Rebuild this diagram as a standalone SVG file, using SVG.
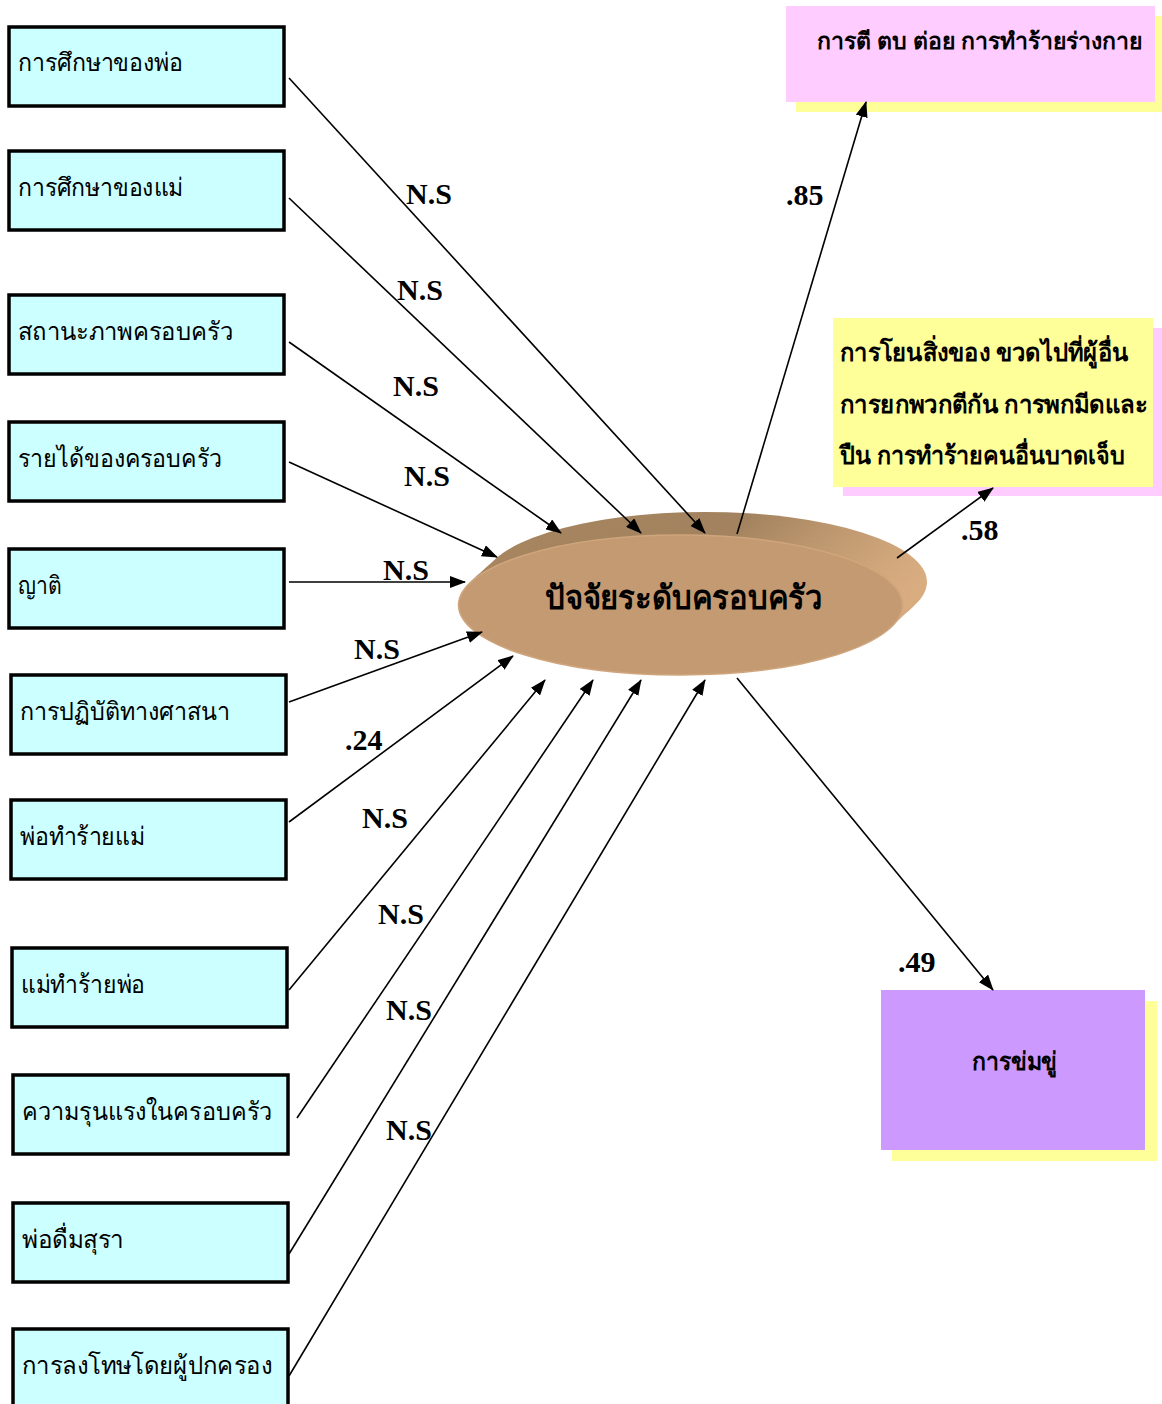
<svg xmlns="http://www.w3.org/2000/svg" width="1162" height="1404" viewBox="0 0 1162 1404">
<defs>
<marker id="ah" viewBox="0 0 16 12" refX="15" refY="6" markerWidth="16" markerHeight="12" markerUnits="userSpaceOnUse" orient="auto">
<path d="M0,0 L16,6 L0,12 z" fill="#000"/>
</marker>
<linearGradient id="ext" x1="0" y1="0" x2="1" y2="0">
<stop offset="0" stop-color="#a6855f"/>
<stop offset="0.6" stop-color="#a3835f"/>
<stop offset="1" stop-color="#d9ad80"/>
</linearGradient>
</defs>
<style>
.box{fill:#ccffff;stroke:#000;stroke-width:3.5}
.bt{font-family:"Liberation Serif","Noto Sans",serif;font-size:25px;fill:#000}
.rt{font-family:"Liberation Serif","Noto Sans",serif;font-size:25px;font-weight:bold;fill:#000}
.lb{font-family:"Liberation Serif",serif;font-size:30px;font-weight:bold;fill:#000}
.cn{stroke:#000;stroke-width:1.6;fill:none;marker-end:url(#ah)}
</style>
<rect width="1162" height="1404" fill="#fff"/>

<g id="n1"><rect class="box" x="9" y="27" width="275" height="79"/><text class="bt" x="18" y="71" textLength="165" lengthAdjust="spacingAndGlyphs">การศึกษาของพ่อ</text></g>
<g id="n2"><rect class="box" x="9" y="151" width="275" height="79"/><text class="bt" x="18" y="196" textLength="165" lengthAdjust="spacingAndGlyphs">การศึกษาของแม่</text></g>
<g id="n3"><rect class="box" x="9" y="295" width="275" height="79"/><text class="bt" x="18" y="340" textLength="215" lengthAdjust="spacingAndGlyphs">สถานะภาพครอบครัว</text></g>
<g id="n4"><rect class="box" x="9" y="422" width="275" height="79"/><text class="bt" x="18" y="467" textLength="204" lengthAdjust="spacingAndGlyphs">รายได้ของครอบครัว</text></g>
<g id="n5"><rect class="box" x="9" y="549" width="275" height="79"/><text class="bt" x="18" y="594" textLength="43" lengthAdjust="spacingAndGlyphs">ญาติ</text></g>
<g id="n6"><rect class="box" x="11" y="675" width="275" height="79"/><text class="bt" x="20" y="720" textLength="210" lengthAdjust="spacingAndGlyphs">การปฏิบัติทางศาสนา</text></g>
<g id="n7"><rect class="box" x="11" y="800" width="275" height="79"/><text class="bt" x="20" y="845" textLength="125" lengthAdjust="spacingAndGlyphs">พ่อทำร้ายแม่</text></g>
<g id="n8"><rect class="box" x="12" y="948" width="275" height="79"/><text class="bt" x="21" y="993" textLength="124" lengthAdjust="spacingAndGlyphs">แม่ทำร้ายพ่อ</text></g>
<g id="n9"><rect class="box" x="13" y="1075" width="275" height="79"/><text class="bt" x="22" y="1120" textLength="250" lengthAdjust="spacingAndGlyphs">ความรุนแรงในครอบครัว</text></g>
<g id="n10"><rect class="box" x="13" y="1203" width="275" height="79"/><text class="bt" x="22" y="1248" textLength="102" lengthAdjust="spacingAndGlyphs">พ่อดื่มสุรา</text></g>
<g id="n11"><rect class="box" x="13" y="1329" width="275" height="90"/><text class="bt" x="22" y="1374" textLength="250" lengthAdjust="spacingAndGlyphs">การลงโทษโดยผู้ปกครอง</text></g>

<g id="center">
<ellipse cx="705" cy="582" rx="222" ry="70" fill="url(#ext)"/>
<ellipse cx="700" cy="587" rx="222" ry="70" fill="url(#ext)"/>
<ellipse cx="695" cy="591" rx="222" ry="70" fill="url(#ext)"/>
<ellipse cx="690" cy="596" rx="222" ry="70" fill="url(#ext)"/>
<ellipse cx="685" cy="600" rx="222" ry="70" fill="url(#ext)"/>
<ellipse cx="680.5" cy="605" rx="222" ry="70" fill="#c49a72" stroke="#cfa57c" stroke-width="1.5"/>
<text x="545" y="609" textLength="278" lengthAdjust="spacingAndGlyphs" font-family="Liberation Serif,'Noto Sans',serif" font-size="33" font-weight="bold">ปัจจัยระดับครอบครัว</text>
</g>

<g id="o1">
<rect x="796" y="16" width="366" height="96" fill="#ffff99"/>
<rect x="786" y="6" width="369" height="96" fill="#ffccff"/>
<text class="rt" x="817" y="49" font-size="23" style="font-size:23px" textLength="325" lengthAdjust="spacingAndGlyphs">การตี ตบ ต่อย การทำร้ายร่างกาย</text>
</g>
<g id="o2">
<rect x="843" y="328" width="319" height="168" fill="#ffccff"/>
<rect x="833" y="318" width="320" height="169" fill="#ffff99"/>
<text class="rt" x="840" y="361" textLength="288" lengthAdjust="spacingAndGlyphs">การโยนสิ่งของ ขวดไปที่ผู้อื่น</text>
<text class="rt" x="840" y="413" textLength="307" lengthAdjust="spacingAndGlyphs">การยกพวกตีกัน การพกมีดและ</text>
<text class="rt" x="840" y="464" textLength="285" lengthAdjust="spacingAndGlyphs">ปืน การทำร้ายคนอื่นบาดเจ็บ</text>
</g>
<g id="o3">
<rect x="892" y="1001" width="265" height="160" fill="#ffff99"/>
<rect x="881" y="990" width="264" height="160" fill="#cc99ff"/>
<text class="rt" x="972" y="1070" textLength="85" lengthAdjust="spacingAndGlyphs">การข่มขู่</text>
</g>

<g id="connectors">
<line class="cn" x1="289" y1="78" x2="705" y2="533"/>
<line class="cn" x1="289" y1="198" x2="641" y2="533"/>
<line class="cn" x1="289" y1="342" x2="561" y2="533"/>
<line class="cn" x1="289" y1="462" x2="497" y2="557"/>
<line class="cn" x1="289" y1="582" x2="465" y2="582"/>
<line class="cn" x1="289" y1="702" x2="482" y2="632"/>
<line class="cn" x1="289" y1="822" x2="513" y2="656"/>
<line class="cn" x1="289" y1="990" x2="545" y2="680"/>
<line class="cn" x1="297" y1="1118" x2="593" y2="680"/>
<line class="cn" x1="289" y1="1254" x2="641" y2="680"/>
<line class="cn" x1="289" y1="1376" x2="705" y2="680"/>
<line class="cn" x1="737" y1="534" x2="866" y2="102"/>
<line class="cn" x1="897" y1="558" x2="993" y2="488"/>
<line class="cn" x1="737" y1="678" x2="993" y2="990"/>
</g>

<g id="labels">
<text class="lb" x="406" y="204">N.S</text>
<text class="lb" x="397" y="300">N.S</text>
<text class="lb" x="393" y="396">N.S</text>
<text class="lb" x="404" y="486">N.S</text>
<text class="lb" x="383" y="580">N.S</text>
<text class="lb" x="354" y="659">N.S</text>
<text class="lb" x="345" y="750">.24</text>
<text class="lb" x="362" y="828">N.S</text>
<text class="lb" x="378" y="924">N.S</text>
<text class="lb" x="386" y="1020">N.S</text>
<text class="lb" x="386" y="1140">N.S</text>
<text class="lb" x="786" y="205">.85</text>
<text class="lb" x="961" y="540">.58</text>
<text class="lb" x="898" y="972">.49</text>
</g>
</svg>
